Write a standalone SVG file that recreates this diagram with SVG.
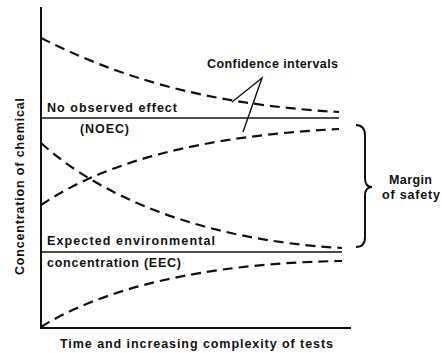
<svg xmlns="http://www.w3.org/2000/svg" width="442" height="353" viewBox="0 0 442 353">
<style>
text{font-family:"Liberation Sans",Arial,sans-serif;font-weight:bold;font-size:12.5px;fill:#111}
.ax{stroke:#111;stroke-width:2;fill:none}
.sol{stroke:#111;stroke-width:1.6;fill:none}
.dash{stroke:#111;stroke-width:2.2;fill:none;stroke-dasharray:10,6}
.thin{stroke:#111;stroke-width:1.4;fill:none}
</style>
<rect width="442" height="353" fill="#fff"/>
<g id="axes">
<path class="ax" d="M41,7 L41,328 L351,328"/>
</g>
<g id="connectors">
<path id="noec-line" class="sol" d="M41,118 L339,118"/>
<path id="eec-line" class="sol" d="M41,252 L342,252"/>
<path id="ci-noec-upper" class="dash" d="M41,38 C115,75 200,104 339,112"/>
<path id="ci-noec-lower" class="dash" d="M41,205 C105,162 200,136 339,129"/>
<path id="ci-eec-upper" class="dash" d="M41,143 C100,196 200,240 342,248"/>
<path id="ci-eec-lower" class="dash" d="M41,327 C100,290 200,263 342,261"/>
<path id="ci-pointer" class="thin" d="M232,102 L262,78 L243,132"/>
<path id="brace" class="ax" d="M356,125 Q365,125 365,136 L365,178 Q365,187 372,187 Q365,187 365,196 L365,237 Q365,247 356,247"/>
</g>
<g id="label-ci"><text x="207" y="68" textLength="131" lengthAdjust="spacing">Confidence intervals</text></g>
<g id="label-noec">
<text x="47" y="112" textLength="130" lengthAdjust="spacing">No observed effect</text>
<text x="80" y="133" textLength="49" lengthAdjust="spacing">(NOEC)</text>
</g>
<g id="label-eec">
<text x="47" y="245" textLength="168" lengthAdjust="spacing">Expected environmental</text>
<text x="47" y="267" textLength="134" lengthAdjust="spacing">concentration (EEC)</text>
</g>
<g id="label-margin">
<text x="389" y="184" textLength="43" lengthAdjust="spacing">Margin</text>
<text x="382" y="199" textLength="58" lengthAdjust="spacing">of safety</text>
</g>
<g id="label-x"><text x="60" y="348" textLength="273" lengthAdjust="spacing">Time and increasing complexity of tests</text></g>
<g id="label-y"><text transform="translate(24,275) rotate(-90)" x="0" y="0" textLength="177" lengthAdjust="spacing">Concentration of chemical</text></g>
</svg>
